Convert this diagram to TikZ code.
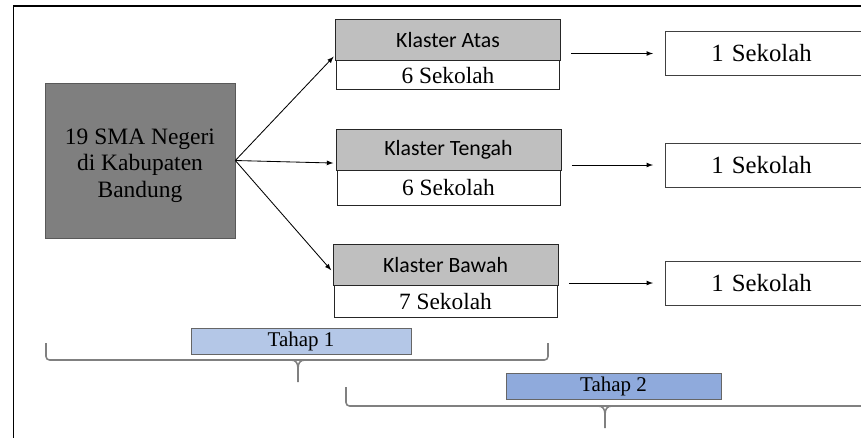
\documentclass[tikz,border=0pt]{standalone}
\usepackage{fontspec}
\setmainfont{Liberation Serif}
\newfontfamily\klfont{Carlito}
\usetikzlibrary{positioning}
\definecolor{boxgray}{HTML}{7F7F7F}
\definecolor{headgray}{HTML}{BFBFBF}
\definecolor{tahapA}{HTML}{B4C7E7}
\definecolor{tahapB}{HTML}{8FAADC}
\tikzset{
 klhead/.style={draw=black!85, fill=headgray, minimum width=5.62cm, minimum height=1.03cm, inner sep=0pt, outer sep=0pt, font=\klfont\fontsize{15.5}{18}\selectfont},
 klbody/.style={draw=black!85, fill=white, minimum width=5.57cm, inner sep=0pt, outer sep=0pt, font=\fontsize{16.6}{19}\selectfont},
 onebox/.style={draw=black!75, text width=2.9cm, inner xsep=1.15cm, inner ysep=0pt, align=left, minimum height=1.1cm, font=\fontsize{17.6}{20}\selectfont},
 tahap/.style={draw=black!60, minimum height=0.65cm, inner sep=0pt, font=\fontsize{14.9}{17}\selectfont},
 arr/.style={-latex, black, line width=0.6pt},
 tahapbrace/.style={draw=black!50, line width=1.1pt, rounded corners=2.5pt}
}
\begin{document}
\begin{tikzpicture}[x=0.025cm, y=-0.025cm]
\useasboundingbox (0,0) rectangle (861,437);
\draw[line width=1.4pt] (13.5,480) -- (13.5,6) -- (890,6);

\node (sma) at (140,160.5) [draw=black!65, fill=boxgray, minimum width=4.75cm, minimum height=3.875cm, text height=55.7pt, align=center, font=\fontsize{16.7}{18.8}\selectfont] {19 SMA Negeri\\di Kabupaten\\Bandung};

\node (atas) at (448,40) [klhead] {Klaster Atas};
\node (atasN) [klbody, minimum height=0.725cm, below=0pt of atas] {6 Sekolah};
\node (tengah) at (448.5,149.5) [klhead] {Klaster Tengah};
\node (tengahN) [klbody, minimum height=0.875cm, below=0pt of tengah] {6 Sekolah};
\node (bawah) at (445.5,265) [klhead] {Klaster Bawah};
\node (bawahN) [klbody, minimum height=0.8cm, below=0pt of bawah] {7 Sekolah};

\node (satuA) at (665,53.5) [onebox, anchor=west] {1 Sekolah};
\node (satuB) at (665,165) [onebox, anchor=west] {1 Sekolah};
\node (satuC) at (665,283) [onebox, anchor=west] {1 Sekolah};

% sebaran ke klaster
\draw[arr, shorten >=2pt] (sma.east) -- ([yshift=0.15cm]atas.south west);
\draw[arr, shorten >=2pt] (sma.east) -- ([yshift=0.175cm]tengah.south west);
\draw[arr, shorten >=2pt] (sma.east) -- ([yshift=0.33cm]bawah.south west);

\draw[arr, shorten <=0.275cm, shorten >=0.3cm] (atas.east |- satuA.west) -- (satuA.west);
\draw[arr, shorten <=0.275cm, shorten >=0.3cm] (tengah.east |- satuB.west) -- (satuB.west);
\draw[arr, shorten <=0.275cm, shorten >=0.3cm] (bawah.east |- satuC.west) -- (satuC.west);

\node (tahap1) at (301,341) [tahap, fill=tahapA, minimum width=5.5cm] {Tahap 1};
\node (tahap2) at (613.5,386) [tahap, fill=tahapB, minimum width=5.375cm] {Tahap 2};

% kurung tahap
\draw[tahapbrace] (46,343) -- (46,360) -- (548,360) -- (548,343);
\draw[tahapbrace, rounded corners=0pt] (291,360) .. controls (296,360) and (298,363) .. (298,369) -- (298,382);
\draw[tahapbrace, rounded corners=0pt] (305,360) .. controls (300,360) and (298,363) .. (298,369);
\draw[tahapbrace] (346,387) -- (346,406) -- (890,406);
\draw[tahapbrace, rounded corners=0pt] (598,406) .. controls (603,406) and (605,409) .. (605,415) -- (605,428);
\draw[tahapbrace, rounded corners=0pt] (612,406) .. controls (607,406) and (605,409) .. (605,415);
\end{tikzpicture}
\end{document}
